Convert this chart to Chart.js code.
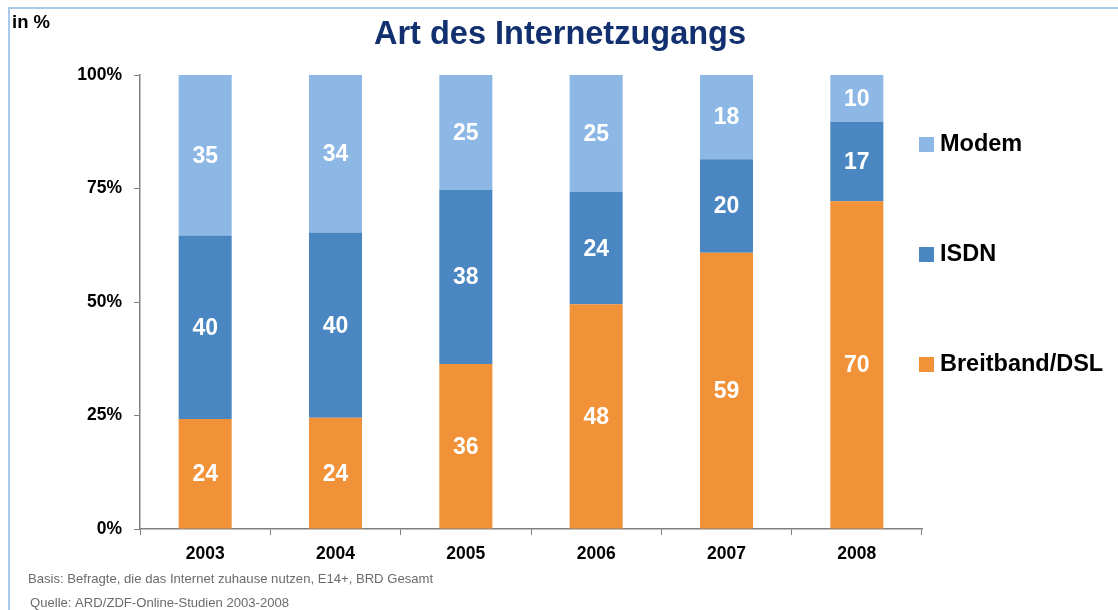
<!DOCTYPE html>
<html>
<head>
<meta charset="utf-8">
<script src="https://cdn.jsdelivr.net/npm/chart.js@4.4.1/dist/chart.umd.min.js"></script>
<style>
  html, body { margin: 0; padding: 0; background: #fff; }
  #wrap { position: relative; width: 1118px; height: 610px; overflow: hidden; }
  #frame { position: absolute; left: 8px; top: 7px; width: 1140px; height: 640px; border: 2px solid #A9CAEB; box-sizing: border-box; }
  canvas { position: absolute; left: 0; top: 0; }
</style>
</head>
<body>
<div id="wrap">
  <div id="frame"></div>
  <canvas id="c" width="1118" height="610"></canvas>
</div>
<script>
const years = ['2003', '2004', '2005', '2006', '2007', '2008'];
const dsl   = [24, 24, 36, 48, 59, 70];
const isdn  = [40, 40, 38, 24, 20, 17];
const modem = [35, 34, 25, 25, 18, 10];
const yTickLabels = ['0%', '25%', '50%', '75%', '100%'];
const seriesNames = ['Breitband/DSL', 'ISDN', 'Modem'];
const seriesColors = ['#F19239', '#4A86C1', '#8DB8E6'];
const titleText = 'Art des Internetzugangs';
const unitText = 'in %';
const footBasis = 'Basis: Befragte, die das Internet zuhause nutzen, E14+, BRD Gesamt';
const footSource = 'Quelle: ARD/ZDF-Online-Studien 2003-2008';

const totals = years.map((_, i) => dsl[i] + isdn[i] + modem[i]);
const norm = arr => arr.map((v, i) => v / totals[i] * 100);
const raws = [dsl, isdn, modem];

const datasets = raws.map((arr, k) => ({
  label: seriesNames[k],
  data: norm(arr),
  raw: arr,
  backgroundColor: seriesColors[k],
  borderWidth: 0,
  categoryPercentage: 1.0,
  barPercentage: 0.407
}));

const FONT = 'Arial, "Liberation Sans", sans-serif';

const decor = {
  id: 'decor',
  afterDatasetsDraw(chart) {
    const ctx = chart.ctx;
    ctx.save();
    ctx.fillStyle = '#ffffff';
    ctx.font = 'bold 23px ' + FONT;
    ctx.textAlign = 'center';
    ctx.textBaseline = 'middle';
    chart.data.datasets.forEach((ds, di) => {
      const meta = chart.getDatasetMeta(di);
      meta.data.forEach((bar, i) => {
        const yMid = (bar.y + bar.base) / 2;
        ctx.fillText(String(ds.raw[i]), bar.x, yMid + 1);
      });
    });
    ctx.restore();
  },
  afterDraw(chart) {
    const ctx = chart.ctx;
    ctx.save();
    ctx.fillStyle = '#12306F';
    ctx.font = 'bold 32.5px ' + FONT;
    ctx.textAlign = 'center';
    ctx.textBaseline = 'middle';
    ctx.fillText(titleText, 560, 35);
    ctx.fillStyle = '#000';
    ctx.font = 'bold 18.5px ' + FONT;
    ctx.textAlign = 'left';
    ctx.fillText(unitText, 12, 23);
    const legY = [144, 254, 364];
    const order = [2, 1, 0];
    ctx.font = 'bold 23.5px ' + FONT;
    order.forEach((k, j) => {
      ctx.fillStyle = seriesColors[k];
      ctx.fillRect(919, legY[j] - 7, 15, 15);
      ctx.fillStyle = '#000';
      ctx.fillText(seriesNames[k], 940, legY[j] + 1);
    });
    ctx.fillStyle = '#6b6b6b';
    ctx.font = '13.1px ' + FONT;
    ctx.fillText(footBasis, 28, 579);
    ctx.fillText(footSource, 30, 603);
    ctx.restore();
  }
};

new Chart(document.getElementById('c'), {
  type: 'bar',
  data: { labels: years, datasets },
  options: {
    responsive: false,
    animation: false,
    layout: { padding: { left: 0, right: 196, top: 75, bottom: 0 } },
    plugins: { legend: { display: false }, tooltip: { enabled: false }, title: { display: false } },
    scales: {
      x: {
        stacked: true,
        offset: true,
        grid: { display: true, drawOnChartArea: false, drawTicks: true, tickLength: 6, color: '#808080', offset: true },
        border: { display: true, color: '#808080', width: 1.5 },
        ticks: { color: '#000', font: { family: FONT, size: 17.5, weight: 'bold' }, padding: 9 },
        afterFit(s) { s.height = 81; }
      },
      y: {
        stacked: true,
        min: 0, max: 100,
        ticks: {
          stepSize: 25,
          color: '#000',
          font: { family: FONT, size: 17.5, weight: 'bold' },
          padding: 12,
          callback: (v) => yTickLabels[Math.round(v / 25)]
        },
        grid: { display: true, drawOnChartArea: false, drawTicks: true, tickLength: 6, color: '#808080' },
        border: { display: true, color: '#808080', width: 1.5 },
        afterFit(s) { s.width = 140; }
      }
    }
  },
  plugins: [decor]
});
</script>
</body>
</html>
